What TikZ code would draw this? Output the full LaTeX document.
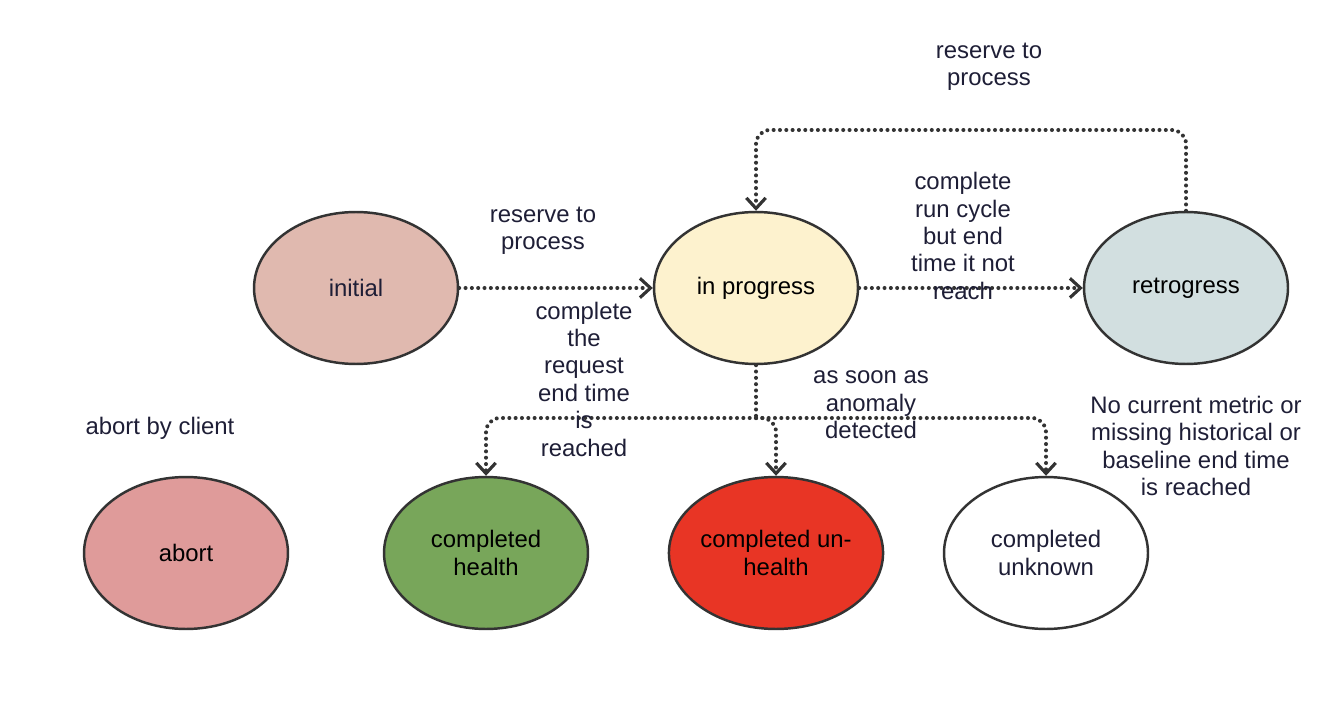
\documentclass[tikz,border=0pt]{standalone}
\usepackage{fontspec}
\setmainfont{Liberation Sans}
\usepackage{xcolor}
\usetikzlibrary{arrows.meta,positioning,shapes.geometric}
\definecolor{initial color}{HTML}{E0B9AF}
\definecolor{progress color}{HTML}{FDF2CE}
\definecolor{retro color}{HTML}{D2DFE0}
\definecolor{abort color}{HTML}{DF9B9A}
\definecolor{health color}{HTML}{78A65A}
\definecolor{unhealth color}{HTML}{E83525}
\definecolor{edge color}{HTML}{333333}
\definecolor{label color}{HTML}{1E1E36}
\tikzset{
    state/.style={ellipse,draw=edge color,line width=1.4pt,minimum width=4.08cm,minimum height=3.04cm,inner sep=0pt,align=center,text=black},
    flow/.style={-{Straight Barb[length=6pt,width=11pt,line width=1.8pt]},line width=2.3pt,line cap=round,dash pattern=on 0pt off 3.6pt,draw=black!80,rounded corners=8pt},
    note/.style={align=center,text=label color},
}
\tikzstyle{every node}=[font=\fontsize{13.6}{15.6}\selectfont]
\begin{document}
\begin{tikzpicture}[x=0.02cm,y=-0.02cm]
    \useasboundingbox (0,0) rectangle (1344,702);
    % states
    \node[state,fill=initial color,text=label color] (initial) at (356,288) {initial};
    \node[state,fill=progress color] (inprogress) at (756,288) {in progress};
    \node[state,fill=retro color] (retrogress) at (1186,288) {retrogress};
    \node[state,fill=abort color] (abort) at (186,553) {abort};
    \node[state,fill=health color] (health) at (486,553) {completed\\health};
    \node[state,fill=unhealth color] (unhealth) at (776,553) {completed un-\\health};
    \node[state,fill=white,text=label color] (unknown) at (1046,553) {completed\\unknown};

    % transitions
    \coordinate (fork) at (756,418);
    \coordinate (loop) at (1186,130);
    \draw[flow] (initial) -- (inprogress);
    \draw[flow] (inprogress) -- (retrogress);
    \draw[flow] (retrogress.north) -- (loop) -| (inprogress.north);
    \draw[flow,-] (inprogress.south) -- (fork);
    \draw[flow] (fork) -| (health.north);
    \draw[flow] (fork) -| (unhealth.north);
    \draw[flow] (fork) -| (unknown.north);

    % labels
    \node[note] (reservelow) at (543,231) {reserve to\\process};
    \node[note] (reservetop) at (989,67) {reserve to\\process};
    \node[note] (runcycle) at (963,236) {complete\\run cycle\\but end\\time it not\\reach};
    \node[note] (request) at (584,379) {complete\\the\\request\\end time\\is\\reached};
    \node[note] (anomaly) at (871,405) {as soon as\\anomaly\\detected};
    \node[note] (byclient) at (160,428) {abort by client};
    \node[note] (nometric) at (1196,446) {No current metric or\\missing historical or\\baseline end time\\is reached};
\end{tikzpicture}
\end{document}
